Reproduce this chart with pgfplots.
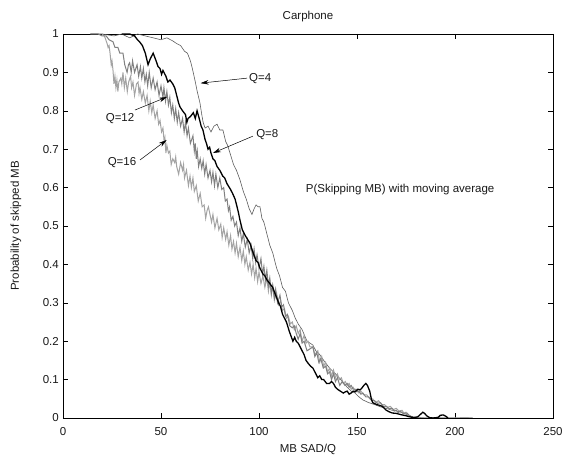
\documentclass[border=0pt]{standalone}
\usepackage{fontspec}
\setmainfont{Liberation Sans}
\usepackage{pgfplots}
\pgfplotsset{compat=1.18}
\usetikzlibrary{arrows.meta}
\definecolor{qfour}{gray}{0.36}
\definecolor{qeight}{gray}{0.0}
\definecolor{qtwelve}{gray}{0.5}
\definecolor{qsixteen}{gray}{0.64}
\begin{document}
\fontsize{12}{14}\selectfont
\begin{tikzpicture}
\begin{axis}[
  at={(0,0)}, anchor=south west,
  scale only axis, width=490pt, height=384pt,
  xmin=0, xmax=250, ymin=0, ymax=1,
  xtick={0,50,100,150,200,250},
  ytick={0,0.1,0.2,0.3,0.4,0.5,0.6,0.7,0.8,0.9,1},
  yticklabels={0,0.1,0.2,0.3,0.4,0.5,0.6,0.7,0.8,0.9,1},
  tick align=inside, major tick length=5pt,
  axis line style={line width=0.7pt, black},
  every tick/.style={black, line width=0.5pt},
  /pgf/number format/assume math mode=true,
  tick label style={font=\fontsize{11.5}{13}\selectfont, text=black!90},
  xticklabel style={yshift=-5pt},
  label style={font=\fontsize{11.5}{13}\selectfont, text=black!90},
  title={Carphone},
  title style={at={(0.5,1)}, anchor=base, yshift=8pt, font=\fontsize{11.5}{13}\selectfont, text=black!90},
  xlabel={MB SAD/Q},
  xlabel style={at={(0.5,0)}, anchor=base, yshift=-35pt},
  ylabel={Probability of skipped MB},
  ylabel style={at={(0,0.5)}, anchor=base, yshift=44pt},
]
% Q=4
\addplot[qfour, line width=0.6pt] coordinates {
(14,1.0) (20,1.0) (26,0.995) (30,1.0) (34,0.99) (38,1.0) (42,0.995) (46,0.99) (50,0.985) (53,0.99) (56,0.982) (58,0.975) (60,0.97) (62,0.955) (63.5,0.95) (65,0.93) (66,0.91) (67.3,0.88) (68.5,0.85) (69.9,0.82) (70.8,0.79) (71.5,0.77) (72.5,0.755) (74,0.76) (75.5,0.745) (77,0.76) (78.6,0.765) (80,0.75) (81.6,0.75) (83,0.72) (84,0.71) (85.2,0.69) (87,0.66) (88.5,0.645) (90.3,0.62) (92,0.59) (93.5,0.57) (95,0.545) (96.4,0.53) (97.5,0.545) (98.5,0.555) (99.5,0.55) (100.5,0.55) (101.5,0.52) (102.5,0.51) (104,0.48) (105.5,0.45) (107,0.43) (108,0.41) (109,0.39) (110.5,0.37) (112,0.34) (113.5,0.33) (115,0.30) (117,0.28) (118.5,0.26) (120,0.245) (122,0.23) (124.5,0.20) (126,0.195) (127.5,0.19) (129,0.175) (131,0.165) (133,0.15) (136,0.13) (138,0.12) (140,0.11) (142.5,0.095) (145,0.08) (147,0.07) (149,0.065) (151,0.055) (153,0.047) (156,0.04) (159,0.035) (162,0.029) (165,0.025) (168,0.02) (170.5,0.018) (173.5,0.013) (176,0.008) (178.6,0.003) (181,0.002) (185,0) (190,0.001) (195,0) (200,0) (205,0.001) (209,0)
};
% Q=16
\addplot[qsixteen, line width=1.0pt] coordinates {
(20,1.0) (21,0.995) (21.5,0.99) (22.5,0.975) (23,0.965) (23.5,0.97) (24,0.95) (24.6,0.92) (25,0.93) (25.5,0.906) (26,0.87) (26.5,0.89) (27,0.86) (27.5,0.88) (28,0.85) (28.5,0.875) (29.5,0.885) (30,0.87) (30.6,0.90) (31.3,0.86) (32,0.885) (32.8,0.85) (33.5,0.875) (34.5,0.89) (35,0.86) (35.7,0.875) (36.5,0.84) (37.5,0.87) (38.3,0.875) (38.8,0.845) (39.3,0.86) (40.2,0.83) (41,0.85) (42,0.82) (42.9,0.84) (43.8,0.80) (44.5,0.825) (45.3,0.795) (46,0.815) (47,0.78) (48,0.80) (48.8,0.765) (49.5,0.775) (50.3,0.745) (51,0.755) (51.6,0.72) (52,0.73) (52.5,0.69) (53,0.71) (53.8,0.69) (54.5,0.695) (55.2,0.66) (56,0.675) (57,0.665) (57.5,0.68) (58,0.655) (59,0.635) (60,0.665) (61,0.645) (61.5,0.66) (62,0.625) (63,0.645) (64,0.605) (64.8,0.63) (65.5,0.60) (66.3,0.625) (67,0.59) (68,0.605) (69,0.565) (70,0.585) (71,0.55) (72,0.555) (72.8,0.52) (73.5,0.54) (74.2,0.55) (75,0.53) (75.8,0.51) (76.5,0.53) (77.5,0.495) (78.6,0.52) (79.5,0.49) (80.5,0.505) (81.2,0.47) (82,0.495) (83,0.465) (83.7,0.485) (84.6,0.45) (85.5,0.475) (86.2,0.44) (87,0.46) (87.8,0.43) (88.5,0.455) (89.4,0.42) (90.3,0.445) (91.2,0.41) (92,0.435) (92.8,0.40) (93.5,0.42) (94.5,0.385) (95.4,0.405) (96.2,0.375) (97,0.40) (97.8,0.365) (98.5,0.39) (99.3,0.355) (100,0.38) (101,0.35) (102,0.37) (103,0.34) (104,0.365) (104.8,0.33) (105.5,0.355) (106.3,0.32) (107,0.345) (108,0.31) (109,0.325) (110,0.295) (111,0.305) (112,0.28) (113,0.285) (114,0.26) (115,0.265) (116,0.245) (117,0.25) (118,0.23) (119,0.24) (120,0.22) (121,0.23) (122,0.2) (123,0.215) (124,0.195) (125,0.2) (126,0.185) (127.5,0.185) (128.5,0.165) (130,0.175) (131,0.145) (132,0.16) (133,0.135) (134,0.145) (135,0.12) (136,0.13) (137,0.11) (138,0.125) (139,0.105) (140,0.115) (141,0.10) (142,0.105) (143,0.09) (144,0.095) (145,0.085) (146,0.09) (147,0.075) (148,0.08) (149,0.07) (150,0.075) (151,0.065) (152,0.07) (153.5,0.06) (155,0.06) (156.5,0.05) (158,0.05) (159.5,0.04) (161,0.045) (162.5,0.035) (164,0.035) (165.5,0.028) (167,0.03) (168.5,0.022) (170,0.025) (171.5,0.018) (173,0.02) (174,0.012) (175,0.015) (176,0.006) (177,0.005) (178,0) (180,0) (209,0)
};
% Q=12
\addplot[qtwelve, line width=1.0pt] coordinates {
(14,1.0) (18,1.0) (20,0.995) (22,0.995) (23.5,0.985) (25.5,0.98) (26.5,0.965) (28,0.965) (29,0.95) (30.6,0.95) (31.5,0.92) (32.7,0.90) (33.4,0.92) (34,0.925) (34.8,0.90) (35.5,0.93) (36.5,0.90) (37.8,0.92) (38.6,0.89) (39.5,0.915) (40.2,0.885) (41,0.91) (41.8,0.875) (42.5,0.895) (43.2,0.865) (44,0.90) (45,0.86) (46,0.885) (47,0.855) (48,0.875) (49,0.84) (50,0.865) (51,0.835) (51.5,0.86) (52.3,0.825) (53,0.85) (53.8,0.815) (54.5,0.835) (55.3,0.795) (56,0.815) (56.8,0.78) (57.5,0.805) (58.3,0.77) (59,0.795) (60,0.76) (61,0.78) (61.8,0.745) (62.5,0.77) (63.3,0.735) (64,0.755) (65,0.715) (66.3,0.735) (67,0.695) (67.5,0.715) (68,0.675) (68.5,0.695) (69.2,0.655) (70,0.675) (70.8,0.65) (71.5,0.67) (72.3,0.635) (73,0.66) (74,0.625) (75,0.645) (75.8,0.615) (76.5,0.64) (77.3,0.605) (78,0.635) (79,0.60) (80,0.625) (81,0.595) (82,0.60) (82.8,0.565) (83.7,0.57) (84.4,0.54) (85,0.55) (85.8,0.515) (86.7,0.525) (87.6,0.50) (88.5,0.51) (89.4,0.475) (90.3,0.495) (91.2,0.46) (92,0.48) (93,0.445) (94,0.465) (95,0.43) (96,0.45) (96.8,0.415) (97.5,0.44) (98.3,0.405) (99,0.425) (100,0.39) (101,0.415) (101.8,0.375) (102.5,0.395) (103.3,0.36) (104,0.385) (104.8,0.345) (105.5,0.365) (106.3,0.325) (107,0.345) (107.8,0.31) (108.5,0.335) (109.5,0.30) (110.7,0.32) (111.6,0.29) (112.5,0.295) (113.5,0.265) (114.5,0.27) (115.7,0.24) (117,0.235) (118,0.24) (119,0.22) (120,0.205) (121,0.22) (122,0.195) (123,0.20) (124.5,0.175) (126,0.18) (127.5,0.185) (128.5,0.16) (129.5,0.17) (130.5,0.145) (131.5,0.155) (132.8,0.13) (134,0.135) (135,0.115) (136,0.12) (137,0.10) (138,0.115) (139,0.095) (140,0.105) (141.2,0.085) (142.5,0.095) (143.8,0.085) (145,0.09) (146,0.08) (147,0.085) (148,0.075) (149,0.075) (150,0.068) (151,0.07) (152,0.062) (153,0.065) (154.5,0.055) (156,0.055) (157.5,0.045) (159,0.045) (160.5,0.038) (162,0.04) (163.5,0.03) (165,0.03) (166.5,0.024) (168,0.025) (169,0.018) (170,0.02) (171,0.014) (172,0.018) (173.5,0.012) (175.5,0.013) (177,0.005) (179,0)
};
% Q=8
\addplot[qeight, line width=1.3pt] coordinates {
(30,1.0) (34,1.0) (36.5,0.995) (38,0.985) (39,0.98) (40.5,0.97) (42,0.95) (43.4,0.92) (44.5,0.935) (46,0.95) (47.5,0.93) (48.5,0.915) (49.5,0.91) (50.3,0.895) (51,0.905) (52.5,0.89) (53.5,0.875) (54.6,0.88) (56,0.87) (57,0.86) (58,0.84) (59,0.82) (59.7,0.81) (61,0.80) (62.5,0.79) (63.2,0.77) (63.8,0.78) (65,0.785) (66.5,0.795) (67.5,0.78) (68.4,0.80) (69.5,0.78) (70.5,0.76) (71.4,0.75) (72.5,0.725) (73.2,0.715) (74,0.70) (74.8,0.705) (75.5,0.69) (76.5,0.675) (77.5,0.67) (78.6,0.655) (80,0.645) (81.5,0.63) (82.5,0.625) (83.7,0.61) (85.5,0.595) (86.5,0.585) (87.8,0.57) (88.8,0.55) (89.5,0.535) (90.3,0.515) (91.5,0.49) (93,0.475) (94.2,0.465) (95.4,0.455) (97,0.43) (98.5,0.41) (99.5,0.405) (100.5,0.39) (102,0.375) (103,0.37) (104,0.36) (105.5,0.35) (107,0.34) (108.5,0.32) (110,0.30) (111,0.29) (112,0.27) (113,0.26) (114,0.25) (115.5,0.225) (117.3,0.20) (118.2,0.21) (119,0.20) (120,0.195) (121,0.185) (122,0.175) (123,0.165) (124,0.15) (125,0.143) (126.3,0.135) (127.5,0.13) (128.5,0.12) (129,0.115) (130,0.105) (131,0.11) (132,0.10) (133,0.10) (134.5,0.09) (136,0.09) (137,0.095) (138,0.09) (139,0.08) (140,0.075) (141.5,0.07) (143,0.065) (144,0.068) (145,0.07) (146,0.062) (147,0.065) (148,0.07) (149,0.068) (150.5,0.075) (151.5,0.073) (152.5,0.078) (153.5,0.085) (154.5,0.09) (155.3,0.085) (156.5,0.07) (157.3,0.05) (158,0.04) (160,0.035) (161.5,0.033) (163,0.03) (164,0.025) (165,0.02) (166.5,0.016) (168,0.013) (170,0.012) (171.5,0.010) (173,0.008) (175,0.006) (176,0.004) (179,0.001) (181,0.003) (182.5,0.01) (183.6,0.015) (184.5,0.012) (185.5,0.006) (187,0.001) (188.8,0) (190.5,0.001) (191.5,0.002) (192.5,0.007) (194,0.008) (195.5,0.004) (196.4,0)
};
% annotations
\draw[black, line width=0.5pt, -{Stealth[length=8pt,width=4.5pt]}] (axis cs:93.9,0.885) -- (axis cs:70.2,0.872);
\node[anchor=west, inner sep=1pt, font=\fontsize{11.5}{13}\selectfont, text=black!90] at (axis cs:94.4,0.885) {Q=4};
\draw[black, line width=0.5pt, -{Stealth[length=8pt,width=4.5pt]}] (axis cs:96.9,0.734) -- (axis cs:76.5,0.69);
\node[anchor=west, inner sep=1pt, font=\fontsize{11.5}{13}\selectfont, text=black!90] at (axis cs:98.0,0.737) {Q=8};
\draw[black, line width=0.5pt, -{Stealth[length=8pt,width=4.5pt]}] (axis cs:36.7,0.802) -- (axis cs:53.1,0.836);
\node[inner sep=1pt, font=\fontsize{11.5}{13}\selectfont, text=black!90] at (axis cs:29.1,0.781) {Q=12};
\draw[black, line width=0.5pt, -{Stealth[length=8pt,width=4.5pt]}] (axis cs:39.3,0.672) -- (axis cs:52.9,0.724);
\node[inner sep=1pt, font=\fontsize{11.5}{13}\selectfont, text=black!90] at (axis cs:30.1,0.664) {Q=16};
\node[inner sep=1pt, font=\fontsize{11.5}{13}\selectfont, text=black!90] at (axis cs:172,0.594) {P(Skipping MB) with moving average};
\end{axis}
\pgfresetboundingbox
\path (-63pt,-42pt) rectangle (502pt,418pt);
\end{tikzpicture}
\end{document}
